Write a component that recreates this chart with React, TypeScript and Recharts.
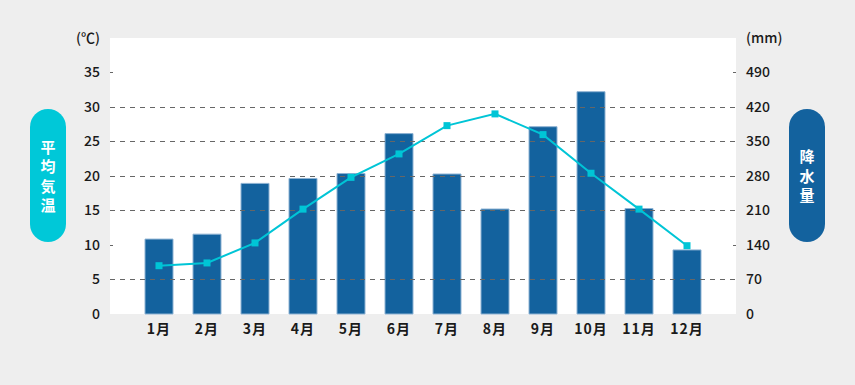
import { ComposedChart, Bar, Line, XAxis, YAxis, CartesianGrid, ReferenceLine } from 'recharts';

const months = ['1月', '2月', '3月', '4月', '5月', '6月', '7月', '8月', '9月', '10月', '11月', '12月'];
const rainfall = [152, 162, 265, 275, 285, 366, 284, 213, 380, 451, 214, 130];
const temperature = [7.0, 7.4, 10.3, 15.2, 19.8, 23.2, 27.3, 29.0, 26.0, 20.4, 15.2, 9.9];
const tempTicks = [0, 5, 10, 15, 20, 25, 30, 35, 40];
const rainTicks = [0, 70, 140, 210, 280, 350, 420, 490, 560];
const dashedLines = [5, 15, 20, 25, 30];
const stubLines = [10, 35];

const FONT = '"Noto Sans CJK JP", "Noto Sans", sans-serif';
const BLUE = '#13629e';
const CYAN = '#00c5d6';

const data = months.map((m, i) => ({ month: m, rain: rainfall[i], temp: temperature[i] }));

const tickStyle = { fill: '#1a1a1a', fontSize: 14, fontWeight: 500, fontFamily: FONT };

const SquareDot = (props: any) => {
  const { cx, cy } = props;
  if (cx == null || cy == null) return null;
  return <rect x={cx - 3.5} y={cy - 3.5} width={7} height={7} fill={CYAN} />;
};

const pill = (left: number, bg: string, text: string) => (
  <div
    style={{
      position: 'absolute', left, top: 109, width: 36, height: 133, borderRadius: 18,
      background: bg, color: '#fff', display: 'flex', flexDirection: 'column',
      alignItems: 'center', justifyContent: 'center', fontFamily: FONT,
      fontSize: 15, fontWeight: 700, lineHeight: '19.5px',
    }}
  >
    {text.split('').map((c, i) => <span key={i}>{c}</span>)}
  </div>
);

export default function App() {
  return (
    <div style={{ position: 'absolute', left: 0, top: 0, width: 855, height: 385, background: '#eeeeee', fontFamily: FONT }}>
      <ComposedChart
        width={855}
        height={385}
        data={data}
        margin={{ top: 38, right: 59, left: 50, bottom: 41 }}
      >
        <CartesianGrid fill="#ffffff" horizontal={false} vertical={false} stroke="none" />
        <XAxis
          dataKey="month"
          padding={{ left: 25, right: 25 }}
          axisLine={false}
          tickLine={false}
          tickSize={0}
          tickMargin={10}
          height={30}
          interval={0}
          tick={{ ...tickStyle, fontWeight: 700, letterSpacing: 1 }}
        />
        <YAxis
          yAxisId="temp"
          domain={[0, 40]}
          ticks={tempTicks}
          width={60}
          axisLine={false}
          tickLine={false}
          tickSize={0}
          tickMargin={10}
          tick={tickStyle}
          tickFormatter={(v) => (v === 40 ? '(℃)' : String(v))}
        />
        <YAxis
          yAxisId="rain"
          orientation="right"
          domain={[0, 560]}
          ticks={rainTicks}
          width={60}
          axisLine={false}
          tickLine={false}
          tickSize={0}
          tickMargin={10}
          tick={tickStyle}
          tickFormatter={(v) => (v === 560 ? '(mm)' : String(v))}
        />
        {dashedLines.map((v) => (
          <ReferenceLine key={v} yAxisId="temp" y={v} stroke="#666666" strokeWidth={1} strokeDasharray="5 5" shapeRendering="crispEdges" />
        ))}
        {stubLines.map((v) => (
          <ReferenceLine key={v} yAxisId="temp" y={v} stroke="#666666" strokeWidth={1} strokeDasharray="3 620 3 1000" shapeRendering="crispEdges" />
        ))}
        <Bar
          yAxisId="rain"
          dataKey="rain"
          barSize={28}
          fill={BLUE}
          stroke="#8db2d3"
          strokeWidth={1}
          isAnimationActive={false}
        />
        <Line
          yAxisId="temp"
          dataKey="temp"
          type="linear"
          stroke={CYAN}
          strokeWidth={2}
          dot={<SquareDot />}
          activeDot={false}
          isAnimationActive={false}
        />
      </ComposedChart>
      {pill(30, '#00c8d8', '平均気温')}
      {pill(789, BLUE, '降水量')}
    </div>
  );
}
